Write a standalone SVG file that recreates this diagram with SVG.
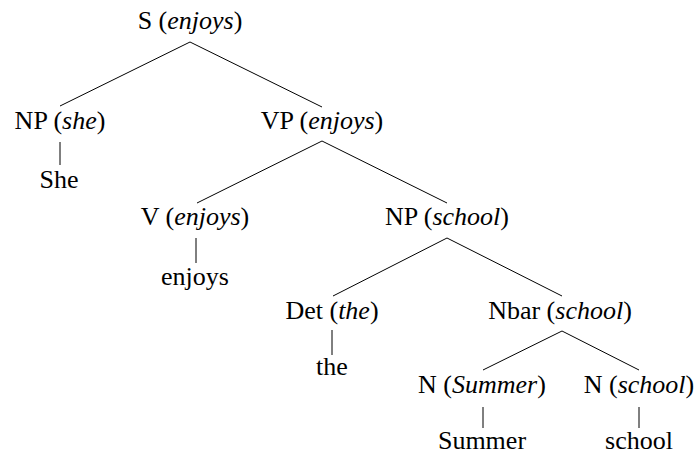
<svg xmlns="http://www.w3.org/2000/svg" width="696" height="456" viewBox="0 0 696 456">
<style>
text{font-family:"Liberation Serif","Times New Roman",serif;font-size:26px;fill:#000;text-anchor:middle}
.i{font-style:italic}
.e{stroke:#000;stroke-width:1;fill:none}
</style>
<rect width="696" height="456" fill="#fff"/>
<g id="connectors">
<line class="e" x1="190" y1="42" x2="60" y2="106"/>
<line class="e" x1="190" y1="42" x2="322" y2="107"/>
<line class="e" x1="60" y1="142" x2="60" y2="165"/>
<line class="e" x1="322" y1="141" x2="197" y2="203"/>
<line class="e" x1="322" y1="141" x2="447" y2="203"/>
<line class="e" x1="196" y1="238" x2="196" y2="263"/>
<line class="e" x1="447" y1="238" x2="333" y2="296"/>
<line class="e" x1="447" y1="238" x2="562" y2="296"/>
<line class="e" x1="332" y1="330" x2="332" y2="355"/>
<line class="e" x1="562" y1="331" x2="483" y2="370"/>
<line class="e" x1="562" y1="331" x2="639" y2="370"/>
<line class="e" x1="483" y1="407" x2="483" y2="428"/>
<line class="e" x1="639" y1="407" x2="639" y2="428"/>
</g>
<g id="S"><text x="190" y="29">S (<tspan class="i">enjoys</tspan>)</text></g>
<g id="NP_she"><text x="60" y="129">NP (<tspan class="i">she</tspan>)</text></g>
<g id="She"><text x="59" y="188">She</text></g>
<g id="VP"><text x="322" y="129">VP (<tspan class="i">enjoys</tspan>)</text></g>
<g id="V"><text x="195" y="225">V (<tspan class="i">enjoys</tspan>)</text></g>
<g id="enjoys"><text x="195" y="285">enjoys</text></g>
<g id="NP_school"><text x="447" y="225">NP (<tspan class="i">school</tspan>)</text></g>
<g id="Det"><text x="332" y="319">Det (<tspan class="i">the</tspan>)</text></g>
<g id="the"><text x="332" y="375">the</text></g>
<g id="Nbar"><text x="560" y="319">Nbar (<tspan class="i">school</tspan>)</text></g>
<g id="N_Summer"><text x="482" y="393">N (<tspan class="i">Summer</tspan>)</text></g>
<g id="Summer"><text x="482" y="449">Summer</text></g>
<g id="N_school"><text x="639" y="393">N (<tspan class="i">school</tspan>)</text></g>
<g id="school"><text x="639" y="449">school</text></g>
</svg>
